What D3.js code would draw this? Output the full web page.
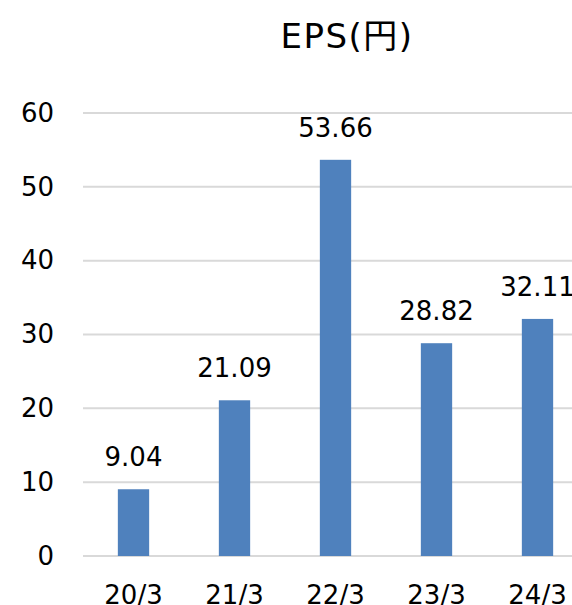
<!DOCTYPE html>
<html>
<head>
<meta charset="utf-8">
<script src="https://cdn.jsdelivr.net/npm/d3@7"></script>
<style>
  html, body { margin: 0; padding: 0; background: #fff; }
  svg { display: block; font-family: "DejaVu Sans", Verdana, sans-serif; }
</style>
</head>
<body>
<svg id="chart" width="572" height="605"></svg>
<script>
// EPS per fiscal year (yen)
const categories = ["20/3", "21/3", "22/3", "23/3", "24/3"];
const epsValues = [9.04, 21.09, 53.66, 28.82, 32.11];
const yTicks = [0, 10, 20, 30, 40, 50, 60];
const title = "EPS(円)";

const svg = d3.select("#chart");
const plot = { left: 83, right: 588, top: 113, bottom: 556 };
const labelSize = 26;

const x = d3.scaleBand()
  .domain(categories)
  .range([plot.left, plot.right])
  .paddingInner(0.69)
  .paddingOuter(0.345);

const y = d3.scaleLinear()
  .domain([0, 60])
  .range([plot.bottom, plot.top]);

// horizontal gridlines
svg.append("g")
  .selectAll("line")
  .data(yTicks)
  .join("line")
  .attr("x1", plot.left)
  .attr("x2", plot.right)
  .attr("y1", d => y(d))
  .attr("y2", d => y(d))
  .attr("stroke", "#d9d9d9")
  .attr("stroke-width", 2);

// y-axis labels
const yAxis = d3.axisLeft(y).tickValues(yTicks).tickSize(0).tickPadding(0);
const gy = svg.append("g")
  .attr("transform", `translate(${plot.left - 29},0)`)
  .call(yAxis);
gy.select(".domain").remove();
gy.selectAll("text")
  .attr("font-size", labelSize)
  .attr("font-family", "DejaVu Sans, sans-serif")
  .attr("fill", "#000");

// bars
const rows = categories.map((c, i) => ({ c, v: epsValues[i] }));
svg.append("g")
  .selectAll("rect")
  .data(rows)
  .join("rect")
  .attr("x", d => x(d.c))
  .attr("width", x.bandwidth())
  .attr("y", d => y(d.v))
  .attr("height", d => y(0) - y(d.v))
  .attr("fill", "#4f81bd");

// value labels
svg.append("g")
  .selectAll("text")
  .data(rows)
  .join("text")
  .attr("x", d => x(d.c) + x.bandwidth() / 2)
  .attr("y", d => y(d.v) - 23)
  .attr("text-anchor", "middle")
  .attr("font-size", labelSize)
  .attr("fill", "#000")
  .text(d => d.v.toFixed(2));

// x-axis labels
const xAxis = d3.axisBottom(x).tickSize(0).tickPadding(0);
const gx = svg.append("g")
  .attr("transform", `translate(0,${plot.bottom})`)
  .call(xAxis);
gx.select(".domain").remove();
gx.selectAll("text")
  .attr("y", 48)
  .attr("dy", null)
  .attr("font-size", labelSize)
  .attr("font-family", "DejaVu Sans, sans-serif")
  .attr("fill", "#000");

// title
svg.append("text")
  .attr("x", 347)
  .attr("y", 48)
  .attr("text-anchor", "middle")
  .attr("font-size", 34)
  .attr("letter-spacing", 1.5)
  .attr("font-family", "DejaVu Sans, 'Noto Sans CJK JP', sans-serif")
  .attr("fill", "#000")
  .text(title);
</script>
</body>
</html>
